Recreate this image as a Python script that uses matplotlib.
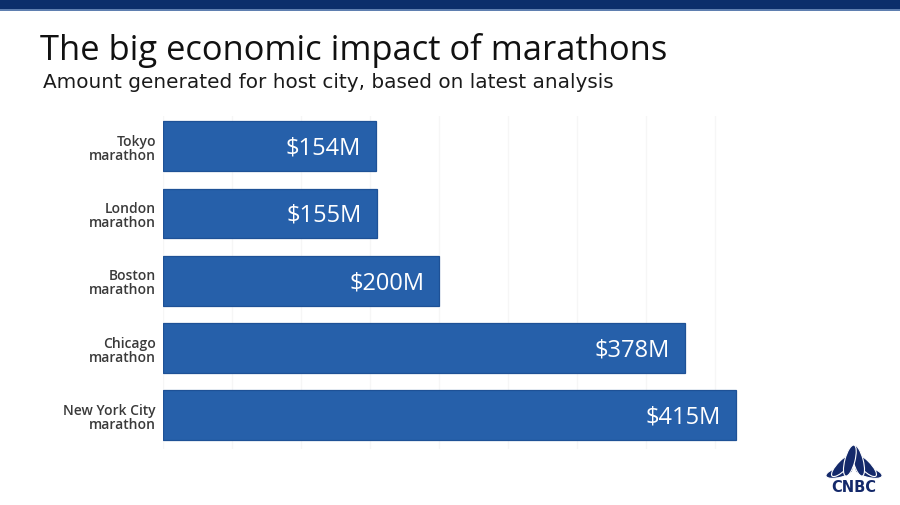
import matplotlib
matplotlib.use("Agg")
import matplotlib.pyplot as plt
from matplotlib.patches import Rectangle, Ellipse
import numpy as np

categories = ["Tokyo\nmarathon", "London\nmarathon", "Boston\nmarathon",
              "Chicago\nmarathon", "New York City\nmarathon"]
values = [154, 155, 200, 378, 415]
value_labels = ["$154M", "$155M", "$200M", "$378M", "$415M"]
grid_ticks = [0, 50, 100, 150, 200, 250, 300, 350, 400]

W, H = 900, 506
fig = plt.figure(figsize=(W / 100, H / 100), dpi=100)
fig.patch.set_facecolor("white")

# top navy band
fig.add_artist(Rectangle((0, 1 - 10 / H), 1, 10 / H, transform=fig.transFigure,
                         facecolor="#0b2e6b", edgecolor="none"))
fig.add_artist(Rectangle((0, 1 - 11.5 / H), 1, 1.5 / H, transform=fig.transFigure,
                         facecolor="#5f7fb0", edgecolor="none"))

fig.text(40 / W, 1 - 60 / H, "The big economic impact of marathons",
         fontsize=24.8, family="Open Sans", fontweight="medium", color="#111111",
         va="baseline", ha="left")
fig.text(43 / W, 1 - 88 / H, "Amount generated for host city, based on latest analysis",
         fontsize=14.4, family="DejaVu Sans", color="#1a1a1a", va="baseline", ha="left")

left = 163 / W
bottom = 1 - 450 / H
top = 1 - 117 / H
xmax = 450
px_per = (736 - 163) / 415
width = xmax * px_per / W
ax = fig.add_axes([left, bottom, width, top - bottom])
ax.set_xlim(0, xmax)
ax.set_ylim(4.5, -0.45)

ypos = np.arange(len(categories))
ax.barh(ypos, values, height=0.74, color="#2660aa", edgecolor="#1e5196",
        linewidth=0.9, zorder=3)

for y, v, lab in zip(ypos, values, value_labels):
    ax.text(v - 15 / px_per, y + 0.02, lab, ha="right", va="center",
            color="white", fontsize=17, family="Open Sans", zorder=4)

ax.set_xticks(grid_ticks)
ax.grid(axis="x", color="#f6f6f6", linewidth=1.0, zorder=0)
ax.tick_params(axis="x", length=0, labelbottom=False)
ax.set_yticks(ypos)
ax.set_yticklabels(categories, fontsize=10, family="Open Sans", fontweight="semibold",
                   color="#3a3a3a", linespacing=1.0)
for t in ax.get_yticklabels():
    t.set_ha("right")
ax.tick_params(axis="y", length=0, pad=5)
for s in ax.spines.values():
    s.set_visible(False)

# CNBC logo
lax = fig.add_axes([0, 0, 1, 1], facecolor="none")
lax.set_xlim(0, W)
lax.set_ylim(H, 0)
lax.axis("off")
navy = "#14296a"
bx, by = 854, 477
angles = [15, 165, 45, 135, 75, 105]
lengths = [29, 29, 31, 31, 32, 32]
for a, L in zip(angles, lengths):
    r = np.deg2rad(a)
    cx = bx + np.cos(r) * L * 0.5
    cy = by - np.sin(r) * L * 0.5
    lax.add_patch(Ellipse((cx, cy), L, 10.0, angle=a, facecolor=navy,
                          edgecolor="white", linewidth=0.8))
lax.add_patch(Ellipse((bx, by - 4), 4, 8, facecolor="white", edgecolor="none"))
lax.text(bx, 487.5, "CNBC", ha="center", va="center", fontsize=10.5,
         fontweight="heavy", family="DejaVu Sans", color=navy)

fig.savefig("out.png", dpi=100, facecolor="white")
